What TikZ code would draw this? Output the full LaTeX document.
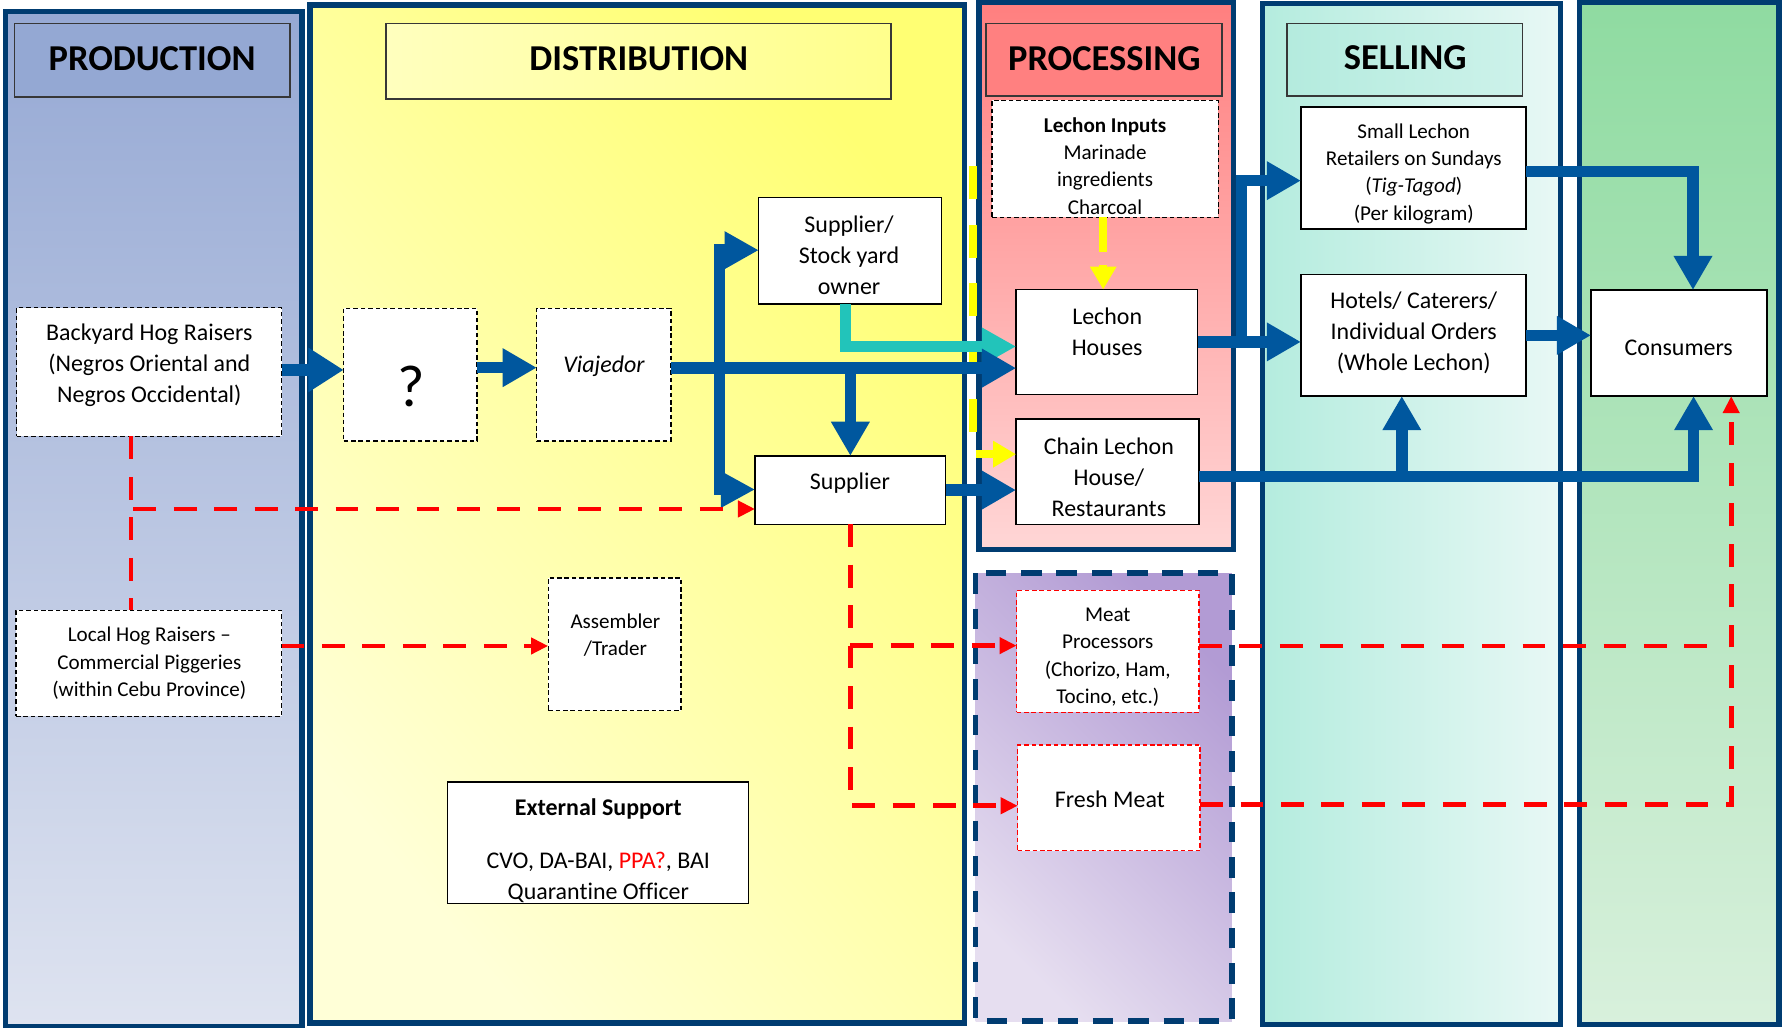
\documentclass[tikz,border=0pt]{standalone}
\usepackage{fontspec}
\setmainfont{Carlito}[Ligatures=CommonOff]
\usetikzlibrary{arrows.meta}
\definecolor{navy}{RGB}{0,60,113}
\definecolor{bluA}{RGB}{0,87,158}
\definecolor{cyanA}{RGB}{34,196,186}
\definecolor{yelA}{RGB}{255,255,0}
\definecolor{redA}{RGB}{255,0,0}
\definecolor{hdrgray}{RGB}{55,55,55}
\definecolor{prodT}{RGB}{150,169,212}
\definecolor{prodB}{RGB}{222,227,240}
\definecolor{prodH}{RGB}{148,168,211}
\definecolor{distT}{RGB}{255,255,115}
\definecolor{distB}{RGB}{255,255,215}
\definecolor{distHL}{RGB}{255,255,190}
\definecolor{distHR}{RGB}{255,255,140}
\definecolor{procT}{RGB}{255,127,127}
\definecolor{procB}{RGB}{255,214,214}
\definecolor{procH}{RGB}{255,128,128}
\definecolor{purT}{RGB}{178,155,212}
\definecolor{purB}{RGB}{230,222,240}
\definecolor{selL}{RGB}{180,236,222}
\definecolor{selR}{RGB}{232,248,245}
\definecolor{selHL}{RGB}{180,235,222}
\definecolor{selHR}{RGB}{205,242,234}
\definecolor{grnT}{RGB}{143,219,161}
\definecolor{grnB}{RGB}{216,240,220}
\begin{document}
\begin{tikzpicture}[x=1pt,y=-1pt,
  panel/.style={draw=navy,line width=4.5pt},
  hdr/.style={draw=hdrgray,line width=1.5pt},
  sbox/.style={draw=black,line width=1.2pt,fill=white,inner sep=0pt,outer sep=0pt},
  dbox/.style={sbox,dash pattern=on 4pt off 2.5pt},
  rbox/.style={sbox,draw=redA,dash pattern=on 4pt off 2.5pt},
  txt/.style={align=center,inner sep=0pt,font=\fontsize{21}{27}\selectfont},
  stxt/.style={txt,font=\fontsize{18.5}{24}\selectfont},
  htxt/.style={inner sep=0pt,font=\bfseries\fontsize{32}{38}\selectfont},
  bl/.style={draw=bluA,line width=10pt,-{Triangle[length=30pt,width=32pt]}},
  cy/.style={draw=cyanA,line width=9.5pt,-{Triangle[length=30pt,width=31pt]}},
  yl/.style={draw=yelA,line width=7pt,dash pattern=on 29pt off 22pt,-{Triangle[length=20pt,width=22pt]}},
  rd/.style={draw=redA,line width=4.2pt,dash pattern=on 20pt off 15.5pt},
  rda/.style={rd,-{Triangle[length=15pt,width=14pt]}},
]
\useasboundingbox (0,0) rectangle (1568,902);
% ---------- panels ----------
\draw[panel,top color=prodT,bottom color=prodB] (5,10.2) rectangle (265,901);
\draw[panel,top color=distT,bottom color=distB,shading angle=-50] (272,4.4) rectangle (846,897.6);
\draw[panel,top color=procT,bottom color=procB] (859,2.5) rectangle (1082,482);
\draw[draw=navy,line width=5pt,dash pattern=on 18pt off 13pt,top color=purT,bottom color=purB,shading angle=-45] (856,503) rectangle (1081,896);
\draw[panel,left color=selL,right color=selR] (1108,3) rectangle (1369,899);
\draw[panel,top color=grnT,bottom color=grnB] (1386,2.5) rectangle (1561,899);
% ---------- headers ----------
\draw[hdr,fill=prodH] (12.7,20.5) rectangle (254.6,85.4);
\draw[hdr,left color=distHL,right color=distHR] (339,20.5) rectangle (782,87);
\draw[hdr,fill=procH] (865,20.5) rectangle (1072,84);
\draw[hdr,left color=selHL,right color=selHR] (1129,20.5) rectangle (1336,84);
\node[htxt] (hP) at (133.5,51.5) {PRODUCTION};
\node[htxt] (hD) at (560.5,51.5) {DISTRIBUTION};
\node[htxt] (hR) at (969,51.5) {PROCESSING};
\node[htxt] (hS) at (1233,51) {SELLING};
% ---------- boxes ----------
\node[dbox,minimum width=232.5pt,minimum height=113pt] (bh) at (130.75,326.5) {};
\node[dbox,minimum width=117pt,minimum height=116.5pt] (q) at (360,328.7) {};
\node[dbox,minimum width=117.6pt,minimum height=116.5pt] (vj) at (529.8,328.7) {};
\node[sbox,minimum width=160.2pt,minimum height=93.3pt] (ss) at (745.9,220.15) {};
\node[sbox,minimum width=167.3pt,minimum height=60pt] (sp) at (746.15,430) {};
\node[dbox,minimum width=198.5pt,minimum height=102.7pt] (li) at (969.75,139.35) {};
\node[sbox,minimum width=159.4pt,minimum height=92pt] (lh) at (971.3,300) {};
\node[sbox,minimum width=160.5pt,minimum height=92.2pt] (cl) at (971.75,413.9) {};
\node[sbox,minimum width=197.5pt,minimum height=107pt] (sl) at (1240.25,147.5) {};
\node[sbox,minimum width=197.5pt,minimum height=106.5pt] (ht) at (1240.25,294.25) {};
\node[sbox,minimum width=154.5pt,minimum height=93pt] (cs) at (1473.25,301) {};
\node[dbox,minimum width=233pt,minimum height=93pt] (lc) at (130.5,582) {};
\node[dbox,minimum width=116.6pt,minimum height=116.5pt] (at) at (539.3,565.25) {};
\node[sbox,minimum width=263.8pt,minimum height=106.6pt] (es) at (524.7,739.3) {};
\node[rbox,minimum width=160pt,minimum height=107pt] (mp) at (972,571.5) {};
\node[rbox,minimum width=160pt,minimum height=92.6pt] (fm) at (973,700.1) {};
% ---------- texts ----------
\node[txt] (bh-t) at (131,320.5) {Backyard Hog Raisers\\(Negros Oriental and\\Negros Occidental)};
\node[inner sep=0pt,font=\fontsize{52}{60}\selectfont] (q-t) at (361,339) {?};
\node[txt,font=\itshape\fontsize{21}{27}\selectfont] (vj-t) at (530,321) {Viajedor};
\node[txt] (ss-t) at (745,224) {Supplier/\\Stock yard\\owner};
\node[txt] (sp-t) at (745.8,424) {Supplier};
\node[stxt] (li-t) at (969.6,145.5) {\textbf{Lechon Inputs}\\Marinade\\ingredients\\Charcoal};
\node[txt] (lh-t) at (971.5,291) {Lechon\\Houses};
\node[txt] (cl-t) at (973,419) {Chain Lechon\\House/\\Restaurants};
\node[stxt] (sl-t) at (1240.5,152.5) {Small Lechon\\Retailers on Sundays\\(\textit{Tig-Tagod})\\(Per kilogram)};
\node[txt] (ht-t) at (1240.5,292) {Hotels/ Caterers/\\Individual Orders\\(Whole Lechon)};
\node[txt] (cs-t) at (1473,305) {Consumers};
\node[stxt] (lc-t) at (131,582) {Local Hog Raisers –\\Commercial Piggeries\\(within Cebu Province)};
\node[stxt] (at-t) at (540,557.5) {Assembler\\/Trader};
\node[txt] (es-t) at (525,746.5) {\textbf{External Support}\\[19pt]CVO, DA-BAI, \textcolor{redA}{PPA?}, BAI\\Quarantine Officer};
\node[stxt] (mp-t) at (972,576.5) {Meat\\Processors\\(Chorizo, Ham,\\Tocino, etc.)};
\node[txt] (fm-t) at (973.8,701) {Fresh Meat};
% ---------- connectors ----------
\coordinate (ystart) at (854,146);
\draw[yl] (ystart) |- (cl.west |- 0,398.5);
\draw[yl,dash pattern=on 30pt off 12pt] (li.south -| 968,0) -- (lh.north -| 968,0);
\draw[cy] (ss.south -| 741.6,0) |- (lh.west |- 0,304);
\draw[bl,-{Triangle[length=31pt,width=37pt]}] (bh.east |- 0,324.6) -- (q.west |- 0,324.6);
\draw[bl] (q.east |- 0,322.6) -- (vj.west |- 0,322.6);
\draw[bl] (vj.east |- 0,323) -- (lh.west |- 0,323);
\draw[bl,{Triangle[length=30pt,width=31pt]}-{Triangle[length=30pt,width=30pt]}] (ss.west |- 0,219.5) -- (631.5,219.5) -- (631.5,429.5) -- (sp.west |- 0,429.5);
\draw[bl] (sp.north |- 0,323) -- (sp.north);
\draw[bl] (sp.east) -- (sp.east -| cl.west);
\draw[bl] (lh.east) -- (lh.east -| ht.west);
\coordinate (j1) at (1089.5,299.8);
\draw[bl] (j1) |- (sl.west |- 0,158.5);
\draw[bl] (sl.east |- 0,150.6) -| (cs.north -| 1485.5,0);
\draw[bl] (ht.east) -- (ht.east -| cs.west);
\draw[bl] (cl.east |- 0,418) -| (cs.south -| 1486,0);
\coordinate (jc) at (1230,418);
\draw[bl] (jc) -- (ht.south -| 1230,0);
% red dashed
\draw[rd] (bh.south -| 115,0) -- (lc.north -| 115,0);
\coordinate (rj) at (117,446.6);
\draw[rda] (rj) -- (sp.west |- 0,446.6);
\draw[rda] (lc.east |- 0,566.8) -- (at.west |- 0,566.8);
\draw[rda] (sp.south) |- (fm.west |- 0,707);
\coordinate (rk) at (746.2,566.5);
\draw[rda] (rk) -- (mp.west |- 0,566.5);
\coordinate (rm) at (1513,566.8);
\draw[rd] (mp.east |- 0,566.8) -- (rm);
\draw[rda] (fm.east |- 0,705.6) -| (cs.south -| 1519,0);
\end{tikzpicture}
\end{document}
